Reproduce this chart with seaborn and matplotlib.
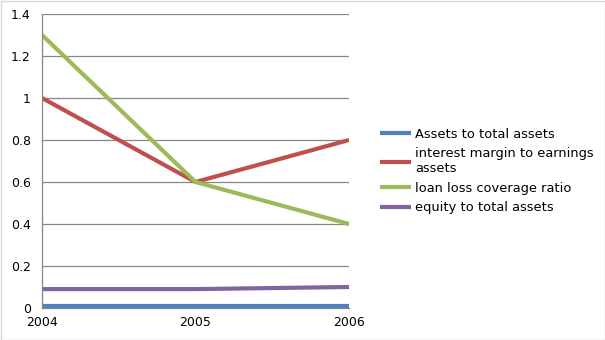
import matplotlib
matplotlib.use("Agg")
import matplotlib.pyplot as plt
import seaborn as sns
import pandas as pd

years = [2004, 2005, 2006]
series_names = [
    "Assets to total assets",
    "interest margin to earnings\nassets",
    "loan loss coverage ratio",
    "equity to total assets",
]
assets_to_total = [0.01, 0.01, 0.01]
interest_margin = [1.0, 0.6, 0.8]
loan_loss_coverage = [1.3, 0.6, 0.4]
equity_to_total = [0.09, 0.09, 0.10]
colors = ["#4F81BD", "#C0504D", "#9BBB59", "#8064A2"]

rows = []
for name, vals in zip(series_names, [assets_to_total, interest_margin,
                                      loan_loss_coverage, equity_to_total]):
    for y, v in zip(years, vals):
        rows.append({"year": y, "value": v, "series": name})
df = pd.DataFrame(rows)

sns.set_style("white")
plt.rcParams["font.family"] = ["DejaVu Sans"]
plt.rcParams["text.color"] = "black"

fig = plt.figure(figsize=(6.05, 3.4), dpi=100)
ax = fig.add_axes([42 / 605, 32 / 340, 307 / 605, 294 / 340])

sns.lineplot(data=df, x="year", y="value", hue="series", hue_order=series_names,
             palette=colors, linewidth=3.0, ax=ax, legend=True)
for line in ax.get_lines():
    line.set_solid_capstyle("butt")

ax.set_xlim(2004, 2006)
ax.set_ylim(0, 1.4)
ax.set_xticks(years)
ax.set_xticklabels([str(y) for y in years])
ax.set_yticks([0, 0.2, 0.4, 0.6, 0.8, 1.0, 1.2, 1.4])
ax.set_yticklabels(["0", "0.2", "0.4", "0.6", "0.8", "1", "1.2", "1.4"])
ax.set_xlabel("")
ax.set_ylabel("")
ax.grid(axis="y", color="#878787", linewidth=0.9)
ax.set_axisbelow(True)
for s in ["top", "right"]:
    ax.spines[s].set_visible(False)
for s in ["left", "bottom"]:
    ax.spines[s].set_color("#878787")
    ax.spines[s].set_linewidth(0.9)
ax.tick_params(axis="both", which="both", length=4, width=0.9, color="#878787",
               labelsize=9, labelcolor="black", direction="out", pad=2)
ax.tick_params(axis="y", pad=4)

handles, labels = ax.get_legend_handles_labels()
leg = ax.legend(handles, labels, loc="center left",
                bbox_to_anchor=(368 / 605, 169 / 340),
                bbox_transform=fig.transFigure, frameon=False, fontsize=9.4,
                handlelength=2.4, handletextpad=0.3, labelspacing=0.5)
for line in leg.get_lines():
    line.set_solid_capstyle("butt")
    line.set_linewidth(3.0)
for t in leg.get_texts():
    t.set_color("black")

border = plt.Rectangle((0.5 / 605, 0.5 / 340), 604 / 605, 339 / 340,
                       transform=fig.transFigure, fill=False,
                       edgecolor="#D9D9D9", linewidth=1)
fig.patches.append(border)

fig.savefig("out.png", dpi=100)
